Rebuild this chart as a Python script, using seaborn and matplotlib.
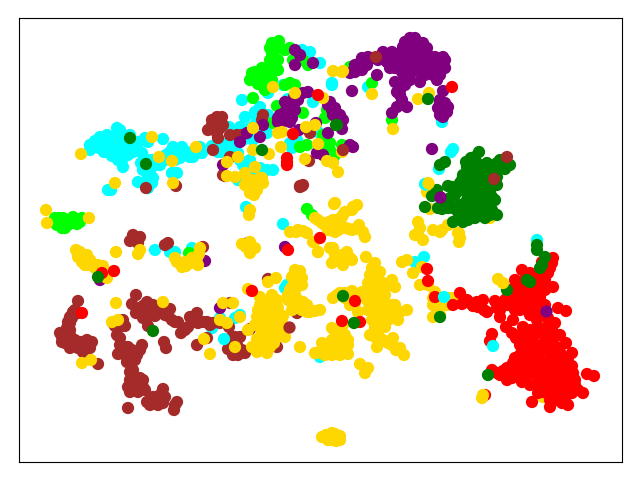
import matplotlib
matplotlib.use("Agg")
import matplotlib.pyplot as plt
import pandas as pd
import seaborn as sns

cyan = [(90,145),(95,141),(100,137),(99,148),(105,143),(104,152),(110,150),(110,141),(116,135),(120,130),(120,140),(116,147),(112,156),(118,155),(124,150),(125,143),(130,135),(128,147),(122,160),(123,167),(130,152),(133,152),(142,153),(145,138),(138,142),
(163,139),(168,158),(173,147),(182,147),(175,153),(180,158),(187,152),(190,157),(197,152),(202,153),(165,160),(160,165),(152,160),(147,168),(141,163),(153,178),(148,177),(138,182),(148,188),(177,173),(172,173),(111,190),(108,190),
(212,146),(217,145),(222,152),(228,143),(229,127),(240,127),(245,117),(242,100),(255,112),(260,107),(257,118),(268,115),(268,93),(283,85),(288,99),(332,83),(302,50),(310,52),(320,63),(313,102),(290,143),(297,140),(292,148),(318,132),(243,140),(248,137),(253,140),(260,135),(267,133),(215,147),(223,150),(230,145),(238,153),(243,165),(250,160),(267,170),(273,170),(260,168),(238,180),(253,173),
(453,149),(451,152),(442,122),(332,85),(368,87),(439,169),(478,182),(466,207),(425,184),(283,224),(246,207),(285,288),(287,285),(155,250),(170,252),(175,252),(192,248),(212,328),(220,318),(240,315),(235,318),(328,348),(320,357),(537,240),(424,257),(415,262),
(107,135),(100,142),(95,147),(90,150),(105,148),(112,143),(115,140),(117,128),(122,135),(127,140),(133,145),(122,143),(118,150),(123,155),(128,155),(118,160),(113,151),(137,148),(148,142),(178,150),(185,155),(193,152),(170,152),(166,155),(170,158),(175,160),(183,153),(193,157),(200,147),(155,165),(150,172),(147,160),(143,170),(152,183),(144,183),(225,145),(232,138),(225,150),(243,133),(250,128),(255,125),(255,130),(265,125),(268,123),(262,115),(258,125),(246,130),(240,135),(234,155),(240,160),(250,165),(233,148),(218,152)]
brown = [(217,117),(212,120),(222,117),(217,123),(208,130),(215,130),(220,128),(218,138),(230,135),(237,135),(242,135),(230,157),(213,150),(176,186),(146,188),(302,186),(300,186),(309,161),(303,185),(300,187),(310,133),(263,115),(262,120),(223,175),(225,176),
(78,301),(136,295),(73,312),(70,317),(67,328),(62,337),(68,338),(75,340),(82,342),(92,342),(87,345),(83,352),(70,348),(65,343),(60,333),(70,323),(98,364),
(113,323),(123,320),(125,326),(118,328),(120,338),(125,347),(118,354),(132,350),(142,345),(137,355),(135,360),(127,362),(133,370),(132,378),(140,378),(128,387),(135,390),(143,387),(128,408),(147,402),(153,397),(153,403),(163,389),(163,403),(177,402),(174,410),
(132,304),(136,313),(147,302),(153,305),(145,310),(152,313),(147,318),(148,326),(160,310),(170,309),(165,315),(175,322),(164,342),(166,348),(181,333),(188,327),(190,317),(197,313),(198,323),(207,322),(213,323),(229,327),(197,345),(207,338),(228,349),(233,355),(238,355),(245,353),(232,337),(240,337),(268,279),(297,313),(277,347),(250,329),(230,303),(165,245),(168,243),(133,235),(130,241),(140,237),(138,243),(203,247),(248,243),
(65,333),(70,335),(72,343),(78,342),(84,345),(90,348),(78,348),(87,340),(70,330),(72,318),(68,322),(75,310),(78,313),(62,342),
(117,335),(120,345),(122,352),(127,352),(128,347),(132,358),(125,355),(130,362),(140,350),(115,326),(120,323),(130,380),(135,383),(137,385),(130,392),(138,392),(143,380),(145,390),(150,400),(157,400),(160,395),(158,405),(165,397),(150,405),(175,405),(130,372),
(143,306),(150,310),(157,310),(140,312),(155,316),(143,318),(163,310),(168,316),(172,320),(178,322),(192,322),(185,330),(195,320),(203,322),(210,325),(220,323),(235,337),(227,340),(237,345),(232,350),(242,350),(212,125),(218,118),(213,125),(217,133),(223,125),(218,130)]
lime = [(272,43),(279,41),(290,48),(272,53),(278,60),(273,65),(268,72),(252,73),(255,80),(260,75),(262,85),(272,80),(253,98),(290,83),(295,85),(285,85),(293,60),(303,60),(308,65),(277,106),(303,113),(273,123),(325,118),(327,110),(300,147),(307,145),(325,142),(327,147),(328,153),(333,158),(342,145),(307,209),(312,215),
(59,218),(57,225),(65,228),(60,222),(73,217),(77,224),(82,218),(75,220),(53,222),(189,253),(392,120),(372,83),(350,67),
(270,48),(277,48),(275,58),(270,60),(262,68),(268,78),(255,72),(258,84),(265,90),(262,78),(250,80),(278,70),(285,50),(275,70),(270,87),(63,218),(68,225),(55,218),(70,222),(62,228),(80,222),(323,135),(322,148),(330,143),(330,150),(335,155)]
purple = [(410,38),(415,38),(405,42),(423,43),(408,50),(402,52),(413,50),(420,53),(427,48),(413,60),(407,58),(420,62),(435,57),(443,57),(430,63),(445,68),(437,70),(427,70),(440,75),(437,80),(420,82),(415,68),(408,70),(400,67),(393,63),(387,62),(383,52),(392,52),(368,57),(362,58),(362,70),(355,72),(377,75),(352,91),(405,77),(400,83),(397,92),(402,100),(407,107),(397,107),(392,113),(443,91),(440,100),(448,107),(445,110),(440,115),(443,117),(432,149),(440,197),
(308,92),(303,93),(285,102),(293,105),(285,112),(290,115),(282,122),(292,118),(278,118),(295,50),(300,55),(295,65),(313,63),(330,102),(332,110),(335,108),(343,120),(342,129),(328,133),(316,123),(299,130),(263,125),(247,133),(260,137),(240,142),(223,165),(317,153),(323,155),(350,145),(353,147),(205,261),(285,247),(100,280),(220,308),
(410,45),(403,47),(415,45),(420,47),(418,55),(410,55),(403,57),(415,63),(423,58),(428,55),(432,68),(425,75),(422,75),(408,62),(400,60),(395,68),(390,68),(402,72),(410,75),(410,80),(405,85),(395,82),(400,90),(400,95),(372,58),(378,60),(355,65),(367,65),(350,73),(360,63),(445,60),(438,62),(442,65),(433,75),(440,103),(445,103),(447,112),(438,108),
(288,108),(295,110),(283,117),(287,120),(280,115),(278,122),(290,122),(298,100),(294,97),(328,105),(333,115),(336,112),(340,115),(338,125)]
gold = [(81,154),(152,137),(115,183),(196,147),(159,157),(172,161),(173,183),(46,210),(47,223),(89,218),(249,215),(250,210),
(253,128),(278,133),(282,132),(281,147),(253,150),(269,154),(315,125),(306,127),(318,144),(305,159),(342,152),(327,161),(333,163),(338,172),(334,204),(353,207),(357,205),(333,71),(342,72),(273,87),(295,93),(323,98),(255,167),(238,157),(227,162),(227,176),(235,177),(245,173),
(252,180),(260,178),(248,187),(255,187),(250,193),(257,190),(263,183),(343,71),(372,94),(418,99),(429,93),(393,129),(490,218),(428,183),(427,192),(435,193),(447,204),(430,209),
(352,210),(343,215),(339,219),(329,222),(323,223),(330,230),(338,230),(349,229),(359,225),(355,229),(363,232),(365,237),(418,222),(420,228),(417,235),(433,230),(442,230),(448,225),(458,233),(460,238),
(314,242),(318,252),(330,248),(333,248),(332,263),(342,255),(350,258),(343,265),(352,260),(366,257),(375,263),(380,272),(372,268),(368,283),(378,280),(392,280),(395,287),(385,288),(375,292),(367,300),(375,303),(382,300),(372,312),(378,317),(375,327),(385,313),(393,305),(407,310),(398,320),(385,327),(375,337),(377,347),(393,338),(388,343),(400,348),(404,355),
(333,298),(340,293),(350,305),(358,312),(362,292),(332,328),(343,325),(335,337),(322,343),(348,345),(340,347),(317,353),(325,355),(332,355),(340,355),(348,354),(360,364),(368,368),(365,373),(402,262),(407,260),(422,267),(413,273),(420,285),(428,285),(433,298),(435,292),(442,305),(437,308),(447,305),(452,298),(433,317),(440,315),(543,397),
(322,437),(332,433),(337,438),(330,440),(340,436),(333,437),(418,235),(415,235),(423,240),(459,233),(459,242),(440,232),
(76,250),(78,257),(87,255),(82,262),(88,265),(95,268),(103,266),(107,278),(116,252),(140,250),(138,254),(116,303),(163,302),(112,322),(118,320),(82,363),(91,360),(177,262),(182,267),(190,263),(197,258),(200,248),(198,265),
(242,244),(250,242),(255,248),(250,253),(246,247),(204,339),(210,354),(223,303),(233,303),(248,289),(268,282),(276,278),(313,242),(318,252),(220,320),(227,323),(240,317),(248,330),(300,347),(315,353),
(260,297),(258,310),(267,310),(277,300),(273,312),(263,320),(272,320),(283,316),(260,325),(268,330),(277,330),(285,337),(277,337),(267,337),(257,339),(258,347),(252,347),(267,353),(274,343),(257,352),
(300,271),(297,280),(302,285),(292,287),(288,295),(295,295),(303,302),(293,303),(302,310),(307,312),(315,311),(320,310),(235,347),(290,232),(298,230),(307,233),(315,218),(322,223),(330,222),(335,203),(342,217),(353,208),(338,230),(328,230),
(370,275),(375,285),(383,283),(370,295),(378,295),(385,295),(372,305),(380,308),(388,305),(395,305),(400,312),(390,315),(372,320),(380,325),(388,320),(395,312),(378,332),(370,335),(383,340),(392,345),(396,350),(375,275),(378,290),(368,310),(355,303),(345,298),(337,295),(345,293),(352,291),(342,333),(337,345),(328,345),(332,340),(340,340),(345,335),(348,340),(338,333),(327,352),(335,350),(342,352),(322,352),
(262,300),(257,317),(264,315),(270,305),(265,325),(272,325),(278,325),(270,315),(278,308),(282,323),(272,335),(262,333),(270,340),(280,333),(285,328),(255,325),(262,345),(270,347),(262,340),(277,317),(260,305),(272,295),(292,277),(295,270),(302,278),(297,287),(290,290),(298,300),(288,300),(292,310),(307,305),(297,308),(310,312),
(303,231),(296,232),(318,220),(325,225),(333,220),(345,212),(337,223),(346,228),(352,230),(335,232),(342,228),(345,260),(338,258),(347,252),(335,255),(253,183),(258,184),(247,180),(254,195),(251,190),(262,178),(245,185),
(80,252),(84,258),(90,260),(85,265),(92,263),(98,265),(185,262),(192,258),(186,266),(195,263),(199,254),(175,258),(326,435),(335,434),(328,440),(336,441),(331,436),(340,440),(433,305),(440,300),(436,305),(448,298)]
red = [(460,293),(453,305),(462,304),(470,303),(477,302),(483,300),(478,307),(487,312),(495,301),(497,308),(500,317),(508,297),(515,280),(522,270),(530,273),(538,282),(548,273),(553,258),(552,263),(542,262),(545,280),(553,287),(520,292),(532,293),(540,297),(517,302),(527,302),(533,308),(508,305),(513,320),(506,327),(523,327),(512,333),(537,320),(555,323),(558,308),(566,311),(547,327),(542,333),(533,337),(520,345),(530,345),(547,343),(557,347),(566,343),(572,353),(520,355),(530,353),(540,350),(550,355),(562,357),(513,363),(523,363),(533,363),(543,363),(553,363),(565,365),(572,366),(507,368),(497,373),(492,370),(507,380),(517,373),(522,382),(533,373),(543,373),(553,373),(563,373),(573,373),(537,383),(547,383),(558,383),(570,382),(538,393),(578,390),(583,393),(587,374),(594,376),(532,402),(550,407),(553,397),(562,403),(568,405),(563,395),(572,393),(492,334),(490,341),(485,395),
(427,269),(428,281),(435,297),(355,301),(360,322),(342,321),(320,238),(452,87),(318,95),(293,134),(287,162),(287,165),(287,158),(114,271),(102,273),(82,313),(252,291),(288,250),
(525,340),(537,345),(552,340),(527,350),(538,356),(547,350),(560,352),(515,358),(528,358),(557,360),(568,358),(518,368),(528,368),(538,368),(548,368),(558,368),(568,370),(512,372),(525,377),(538,378),(548,378),(558,378),(568,377),(575,380),(530,385),(542,388),(552,390),(560,388),(567,388),(575,385),(543,392),(556,400),(565,400),(550,400),(500,375),(512,378),(503,371),(545,337),(537,328),(530,330),(540,315),(530,315),(520,310),(525,280),(533,283),(540,287),(545,290),(525,288),(530,300),(522,297),(513,295),(538,303),(510,290),(503,305),(500,310),(515,310),(527,310),(543,270),(545,262),(550,268),(537,275),(545,305),(548,318),(552,330),(520,335),(516,338),(560,335),(552,337),(467,300),(473,306),(480,304),(484,310),(517,282),(505,300)]
green = [(479,152),(471,158),(445,162),(440,165),(467,167),(477,163),(487,163),(497,163),(505,162),(510,165),(505,169),(463,175),(473,173),(483,173),(492,173),(497,177),(460,183),(448,186),(457,188),(468,183),(483,183),(497,185),(490,192),(437,190),(467,193),(480,193),(495,200),(450,198),(467,200),(480,202),(490,205),(453,208),(438,208),(442,209),(425,207),(473,210),(487,210),(497,215),(463,222),(468,220),(475,218),(485,218),(453,222),
(428,99),(337,125),(336,125),(262,150),(130,138),(146,164),(153,331),(98,277),(343,296),(354,323),(488,375),(507,290),(527,280),(530,282),(537,245),(537,250),(545,257),(542,265),(540,268),(440,317),
(475,157),(466,162),(472,168),(482,168),(490,168),(498,168),(470,178),(478,178),(488,178),(495,180),(462,180),(455,188),(452,187),(462,190),(473,188),(478,188),(488,187),(492,197),(484,197),(476,198),(470,205),(478,208),(484,205),(492,210),(470,215),(480,215),(490,215),(460,215),(465,210),(455,195),(445,205),(460,205),(448,208),(458,212),(495,168),(500,160),(475,203),(483,190),(468,175),(432,196)]

late_xy = [(376,57),(507,157),(494,179),(343,150),(546,311),(498,279),(503,283),(483,395),(482,398),(493,346),(444,297),(224,339),(289,327),(440,197),(425,184),(428,183)]
late_group = ["brown","brown","brown","brown","purple","gold","gold","gold","gold","cyan","cyan","cyan","brown","purple","cyan","gold"]

palette = {"cyan":"#00ffff","brown":"#a52a2a","lime":"#00ff00","purple":"#800080",
           "gold":"#ffd700","red":"#ff0000","green":"#008000"}
groups = [("cyan",cyan),("brown",brown),("lime",lime),("purple",purple),("gold",gold),("red",red),("green",green)]
rows = [(x,y,n) for n,pts in groups for x,y in pts]
rows += [(x,y,n) for (x,y),n in zip(late_xy,late_group)]
df = pd.DataFrame(rows, columns=["x","y","group"])

fig, ax = plt.subplots(figsize=(6.4,4.8), dpi=100)
fig.subplots_adjust(left=19/640, right=622/640, bottom=1-462/480, top=1-18/480)
# Each run of one colour is drawn in row order so that the colours overlap as in the reference
for _, part in df.groupby((df["group"] != df["group"].shift()).cumsum(), sort=False):
    sns.scatterplot(data=part, x="x", y="y", hue="group", palette=palette, s=78,
                    linewidth=0, legend=False, ax=ax)
ax.set_xlim(19,622)
ax.set_ylim(462,18)
ax.set_xticks([]); ax.set_yticks([])
ax.set_xlabel(""); ax.set_ylabel("")
fig.savefig("out.png", dpi=100)
